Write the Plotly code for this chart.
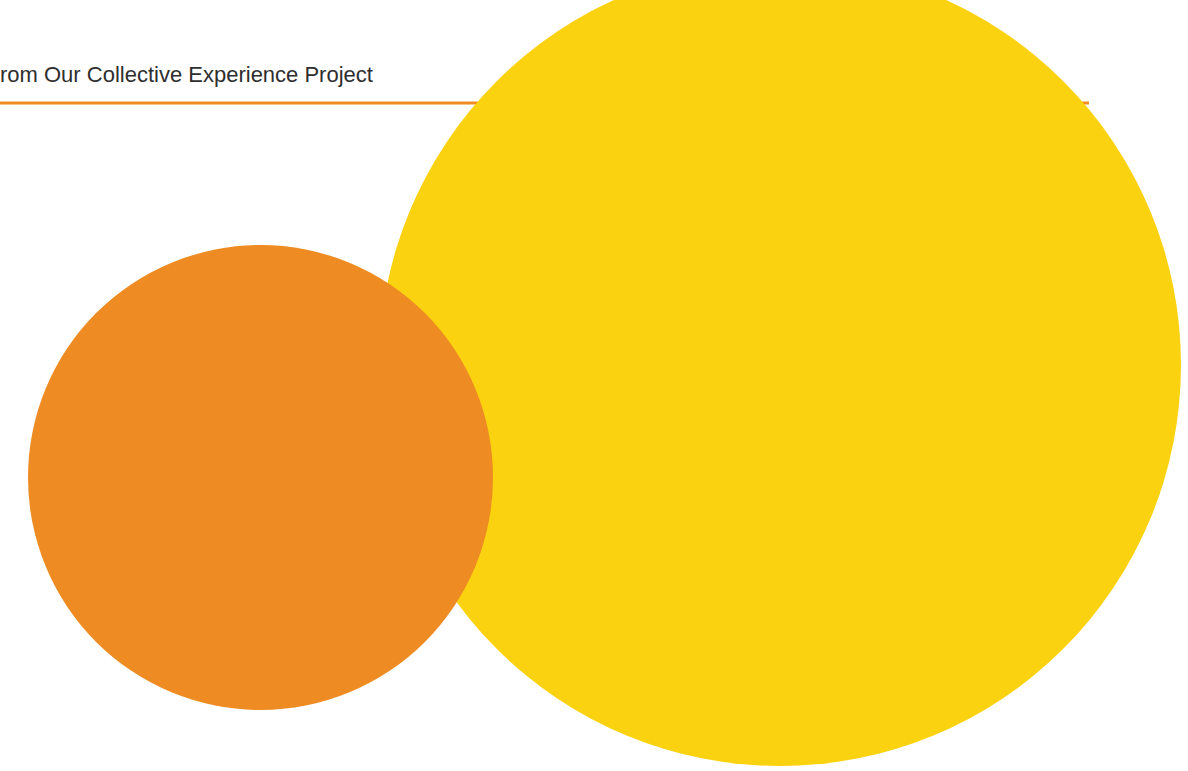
import plotly.graph_objects as go

# Data
labels = ["Yellow group", "Orange group"]
center_x = [780, 260.5]
center_y = [365, 477.5]
diameters = [802, 465]
colors = ["#FBD20F", "#EE8C23"]

title_text = "rom Our Collective Experience Project"
rule_x = [0, 1089]
rule_y = [103, 103]

W, H = 1188, 771

fig = go.Figure()
fig.add_trace(go.Scatter(x=rule_x, y=rule_y, mode="lines",
                         line=dict(color="#EE8C23", width=3),
                         hoverinfo="skip", showlegend=False))
for i in range(len(labels)):
    fig.add_trace(go.Scatter(
        x=[center_x[i]], y=[center_y[i]], mode="markers", name=labels[i],
        marker=dict(size=diameters[i], sizemode="diameter", color=colors[i],
                    line=dict(width=0), opacity=1),
        showlegend=False, cliponaxis=False))

fig.add_annotation(x=0, y=74, xref="x", yref="y", text=title_text,
                   showarrow=False, xanchor="left", yanchor="middle", xshift=-2,
                   font=dict(family="Liberation Sans, Arial, sans-serif", size=22, color="#2e2e2e"))

fig.update_layout(
    width=W, height=H,
    margin=dict(l=0, r=0, t=0, b=0),
    paper_bgcolor="white", plot_bgcolor="white",
    xaxis=dict(range=[0, W], visible=False, fixedrange=True),
    yaxis=dict(range=[H, 0], visible=False, fixedrange=True),
)
fig.write_html("out.html", post_script="document.body.style.margin='0';document.body.style.overflow='hidden';",
               config={"displayModeBar": False})
